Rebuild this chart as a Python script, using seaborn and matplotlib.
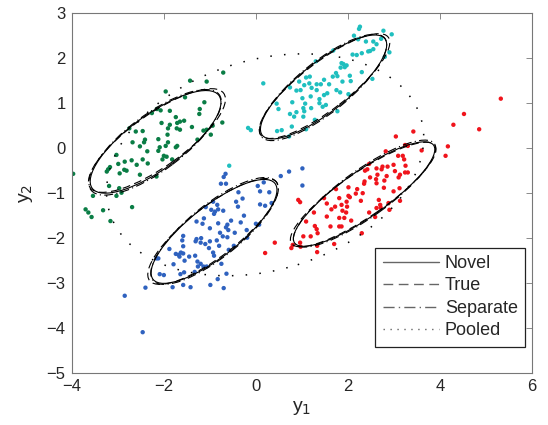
"""
Four clusters with fitted covariance ellipses (Novel / True / Separate / Pooled).
"""
import numpy as np
import pandas as pd
import seaborn as sns
import matplotlib.pyplot as plt
from matplotlib.patches import Ellipse
from matplotlib.lines import Line2D

# cluster samples (y1, y2)
green_pts = [
    (-0.71, 1.68), (-1.43, 1.50), (-1.07, 1.48), (-1.96, 1.26), (-1.54, 1.13), (-1.12, 1.02),
    (-1.22, 0.87), (-1.23, 0.76), (-2.15, 0.87), (-2.07, 0.84), (-2.26, 0.78), (-1.87, 0.83),
    (-1.74, 0.69), (-1.71, 0.56), (-1.56, 0.61), (-1.65, 0.59), (-2.05, 0.56), (-1.87, 0.52),
    (-1.91, 0.44), (-1.72, 0.44), (-1.65, 0.41), (-1.39, 0.47), (-0.94, 0.50), (-0.73, 0.57),
    (-1.07, 0.41), (-1.14, 0.39), (-0.98, 0.30), (-1.27, 0.19), (-2.75, 0.44), (-2.61, 0.37),
    (-2.46, 0.38), (-2.68, 0.13), (-2.41, 0.19), (-2.43, 0.13), (-2.52, 0.04), (-2.36, -0.07),
    (-2.12, 0.20), (-2.12, -0.06), (-2.09, 0.02), (-1.96, 0.05), (-1.91, 0.13), (-1.92, 0.30),
    (-1.94, -0.19), (-2.00, -0.17), (-2.03, -0.25), (-1.82, -0.25), (-1.74, 0.02), (-1.71, 0.05),
    (-2.35, -0.34), (-2.46, -0.25), (-2.59, -0.37), (-2.70, -0.27), (-2.85, -0.30), (-2.81, -0.50),
    (-2.86, -0.48), (-2.99, -0.35), (-2.52, -0.59), (-2.16, -0.63), (-2.96, -0.56), (-3.17, -0.42),
    (-3.21, -0.47), (-3.24, -0.52), (-3.03, -0.15), (-3.19, -0.84), (-2.97, -0.89), (-2.92, -0.99),
    (-3.54, -1.06), (-3.03, -1.06), (-2.69, -1.31), (-3.32, -1.38), (-3.70, -1.36), (-3.64, -1.43),
    (-3.57, -1.53), (-3.16, -1.62), (-3.97, -0.57),
]
blue_pts = [
    (-0.66, -0.57), (-0.70, -0.64), (-0.76, -0.79), (-0.65, -0.79), (0.54, -0.62), (0.72, -0.52),
    (1.01, -0.83), (1.01, -0.45), (0.04, -0.84), (0.17, -0.76), (0.09, -0.96), (0.29, -0.98),
    (-0.38, -0.98), (-0.29, -1.12), (-0.43, -1.19), (-0.39, -1.30), (0.09, -1.25), (0.20, -1.28),
    (0.34, -1.22), (-0.93, -1.19), (-0.84, -1.26), (-1.09, -1.31), (-0.97, -1.37), (-0.89, -1.41),
    (-0.91, -1.46), (-0.82, -1.36), (-0.71, -1.39), (-0.26, -1.50), (-1.13, -1.56), (-1.29, -1.63),
    (-1.16, -1.68), (-1.00, -1.78), (-0.82, -1.67), (-0.62, -1.70), (-0.54, -1.61), (-0.65, -1.76),
    (-0.60, -1.82), (-0.78, -1.88), (-0.72, -1.96), (-0.46, -1.88), (-0.33, -1.65), (-0.20, -1.82),
    (0.00, -1.68), (0.07, -1.70), (-0.19, -1.99), (-0.62, -1.98), (-0.85, -2.05), (-1.00, -2.07),
    (-1.10, -2.13), (-1.19, -2.00), (-1.20, -2.10), (-1.31, -2.07), (-1.29, -2.02), (-1.58, -1.95),
    (-1.60, -2.05), (-1.58, -2.18), (-1.02, -2.22), (-0.93, -2.32), (-0.80, -2.17), (-0.59, -2.26),
    (-0.48, -2.17), (-1.74, -2.35), (-1.68, -2.37), (-1.63, -2.32), (-1.58, -2.34), (-1.66, -2.41),
    (-1.88, -2.24), (-1.45, -2.41), (-1.32, -2.39), (-0.91, -2.39), (-1.27, -2.52), (-1.26, -2.63),
    (-1.20, -2.57), (-1.14, -2.63), (-1.07, -2.63), (-1.55, -2.50), (-1.79, -2.58), (-2.16, -2.45),
    (-2.12, -2.45), (-0.75, -2.57), (-0.64, -2.79), (-1.33, -2.75), (-1.64, -2.80), (-1.56, -2.76),
    (-2.09, -2.80), (-2.00, -2.82), (-0.83, -2.91), (-0.99, -3.04), (-1.42, -3.09), (-1.58, -3.04),
    (-1.81, -3.09), (-2.40, -3.10), (-0.70, -3.11), (-2.46, -4.09), (-2.85, -3.28),
]
cyan_pts = [
    (2.26, 2.70), (2.24, 2.65), (2.77, 2.61), (2.95, 2.53), (2.13, 2.50), (2.22, 2.42),
    (2.39, 2.37), (2.55, 2.37), (2.72, 2.43), (2.62, 2.31), (2.55, 2.20), (2.44, 2.15),
    (2.48, 2.16), (2.19, 2.07), (2.30, 2.11), (2.10, 2.08), (2.90, 2.13), (2.80, 2.03),
    (1.68, 2.17), (2.53, 1.54), (2.30, 1.69), (2.04, 1.61), (1.86, 1.89), (1.90, 1.87),
    (1.97, 1.84), (1.93, 1.80), (1.84, 1.79), (1.74, 1.67), (1.77, 1.60), (1.67, 1.59),
    (1.48, 1.52), (1.30, 1.93), (1.17, 1.59), (1.09, 1.57), (0.94, 1.48), (1.05, 1.40),
    (0.88, 1.28), (0.97, 1.29), (0.74, 1.35), (1.16, 1.44), (1.21, 1.34), (1.32, 1.42),
    (1.41, 1.42), (1.32, 1.29), (1.59, 1.42), (1.75, 1.29), (1.83, 1.24), (1.88, 1.48),
    (2.06, 1.49), (2.01, 1.20), (1.55, 1.22), (1.48, 1.18), (1.38, 1.09), (1.19, 1.15),
    (1.07, 0.99), (1.01, 1.11), (0.79, 1.02), (0.45, 0.99), (0.49, 0.87), (0.88, 0.80),
    (1.05, 0.82), (1.03, 0.89), (1.20, 0.89), (1.52, 0.96), (1.45, 0.92), (1.38, 1.00),
    (1.77, 0.82), (0.74, 0.76), (0.83, 0.70), (1.03, 0.70), (1.28, 0.63), (0.78, 0.48),
    (0.46, 0.38), (0.56, 0.40), (1.09, 0.42), (0.72, 0.26), (0.16, 1.44), (-0.11, 0.40),
    (-0.17, 0.45), (-0.58, -0.39),
]
red_pts = [
    (5.32, 1.10), (4.52, 0.76), (4.29, 0.52), (4.85, 0.42), (3.42, 0.37), (3.04, 0.26),
    (4.17, 0.04), (4.12, -0.17), (3.60, -0.05), (3.24, 0.07), (3.30, 0.05), (2.82, -0.07),
    (3.09, -0.17), (3.19, -0.17), (3.22, -0.25), (3.25, -0.39), (3.24, -0.54), (3.30, -0.54),
    (2.99, -0.37), (2.86, -0.41), (2.75, -0.41), (2.73, -0.47), (2.62, -0.45), (2.46, -0.35),
    (2.42, -0.47), (2.37, -0.50), (3.02, -0.51), (3.13, -0.59), (3.10, -0.65), (2.84, -0.62),
    (2.64, -0.59), (2.61, -0.69), (2.48, -0.65), (2.36, -0.74), (2.35, -0.79), (2.62, -0.78),
    (2.79, -0.72), (2.78, -0.88), (2.99, -0.96), (3.12, -0.89), (3.13, -1.17), (2.20, -0.91),
    (2.01, -0.87), (2.32, -1.00), (2.17, -1.01), (2.28, -1.17), (2.01, -1.06), (2.04, -1.09),
    (1.97, -1.19), (1.81, -1.11), (1.74, -0.91), (2.67, -1.15), (2.70, -1.26), (2.88, -1.22),
    (2.71, -1.32), (2.90, -1.37), (2.62, -1.33), (1.98, -1.30), (1.86, -1.26), (1.88, -1.39),
    (1.96, -1.43), (1.92, -1.55), (1.81, -1.55), (2.07, -1.61), (1.72, -1.30), (1.64, -1.36),
    (1.54, -1.23), (1.48, -1.11), (1.54, -1.52), (1.86, -1.74), (1.81, -1.74), (1.62, -1.74),
    (1.26, -1.43), (0.92, -1.15), (0.96, -1.20), (1.09, -1.63), (1.28, -1.73), (1.32, -1.80),
    (1.34, -1.89), (2.46, -1.43), (2.59, -1.53), (2.30, -1.89), (1.03, -1.96), (1.19, -1.96),
    (0.96, -2.10), (0.97, -2.19), (0.80, -2.15), (0.77, -2.22), (1.33, -2.17), (1.70, -2.13),
    (1.33, -2.31), (0.41, -2.10), (0.20, -2.33),
]
cluster_names = ['green', 'blue', 'cyan', 'red']
cluster_colors = ['#0a7d45', '#2f62bf', '#1fbfbf', '#f0141c']

# ellipse parameters per cluster: centre, full width, full height, angle (deg)
novel_center = [(-2.18, 0.14), (-0.91, -1.85), (1.47, 1.36), (2.35, -1.02)]
novel_width = [3.44, 3.40, 3.42, 3.72]
novel_height = [1.20, 1.12, 1.08, 1.00]
novel_angle = [37.0, 39.0, 39.0, 35.8]

true_center = [(-2.15, 0.17), (-0.93, -1.85), (1.49, 1.38), (2.33, -1.03)]
true_width = [3.58, 3.52, 3.52, 3.80]
true_height = [1.16, 1.10, 1.04, 0.98]
true_angle = [36.0, 38.5, 38.3, 35.0]

sep_center = [(-2.19, 0.13), (-0.90, -1.84), (1.46, 1.35), (2.36, -1.01)]
sep_width = [3.50, 3.46, 3.46, 3.76]
sep_height = [1.24, 1.16, 1.12, 1.04]
sep_angle = [37.5, 39.5, 39.5, 36.3]

pooled_center = (0.20, -0.37)
pooled_width = 7.08
pooled_height = 4.66
pooled_angle = 17.7

model_labels = ['Novel', 'True', 'Separate', 'Pooled']
model_styles = ['-', (0, (7, 4)), (0, (8, 3, 1, 3)), (0, (1, 4))]


def main():
    frames = []
    for name, pts in zip(cluster_names, [green_pts, blue_pts, cyan_pts, red_pts]):
        arr = np.array(pts)
        frames.append(pd.DataFrame({'y1': arr[:, 0], 'y2': arr[:, 1], 'cluster': name}))
    df = pd.concat(frames, ignore_index=True)

    sns.set_style('white')
    plt.rcParams['font.family'] = ['Liberation Sans', 'DejaVu Sans']

    fig = plt.figure(figsize=(5.48, 4.25), dpi=100)
    ax = fig.add_axes([0.131, 0.122, 0.840, 0.847])

    sns.scatterplot(data=df, x='y1', y='y2', hue='cluster', hue_order=cluster_names,
                    palette=cluster_colors, s=10, linewidth=0, legend=False, ax=ax, zorder=2)

    # cluster ellipses for the three per-cluster models
    sets = [
        (novel_center, novel_width, novel_height, novel_angle, model_styles[0]),
        (true_center, true_width, true_height, true_angle, model_styles[1]),
        (sep_center, sep_width, sep_height, sep_angle, model_styles[2]),
    ]
    for centers, widths, heights, angles, ls in sets:
        for c, w, h, a in zip(centers, widths, heights, angles):
            ax.add_patch(Ellipse(c, w, h, angle=a, fill=False, edgecolor='k',
                                 linewidth=0.8, linestyle=ls, zorder=3))
    # pooled model: one ellipse over all data, sparser dots than the legend sample
    ax.add_patch(Ellipse(pooled_center, pooled_width, pooled_height, angle=pooled_angle,
                         fill=False, edgecolor='k', linewidth=1.1, linestyle=(0, (1, 8)), zorder=3))

    ax.set_xlim(-4, 6)
    ax.set_ylim(-5, 3)
    ax.set_xticks([-4, -2, 0, 2, 4, 6])
    ax.set_yticks(range(-5, 4))
    ax.set_xlabel('y$_1$', fontsize=14, labelpad=3)
    ax.set_ylabel('y$_2$', fontsize=14, labelpad=8)
    ax.tick_params(direction='in', length=4, width=0.6, top=True, right=True,
                   labelsize=12, color='#777777', pad=4.5)
    for sp in ax.spines.values():
        sp.set_color('#777777')
        sp.set_linewidth(0.8)

    handles = [Line2D([], [], color='#666666', linewidth=1.0, linestyle=ls) for ls in model_styles]
    leg = ax.legend(handles, model_labels, loc='lower right', bbox_to_anchor=(0.985, 0.074),
                    fancybox=False, framealpha=1, edgecolor='#222222', fontsize=13,
                    handlelength=3.1, borderaxespad=0, borderpad=0.4, labelspacing=0.3,
                    handletextpad=0.35)
    leg.get_frame().set_linewidth(0.9)

    fig.savefig('out.png', dpi=100)


if __name__ == '__main__':
    main()
